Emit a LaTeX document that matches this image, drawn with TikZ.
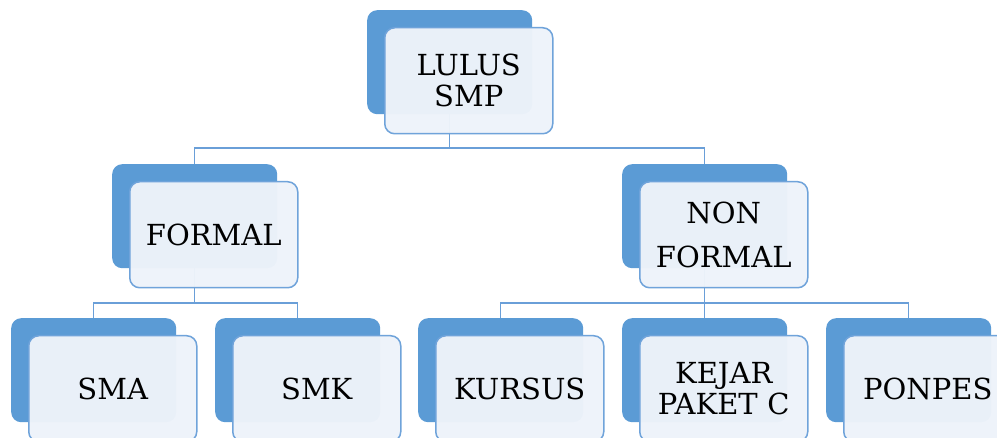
\documentclass[tikz,border=0pt]{standalone}
\usepackage{fontspec}
\setmainfont{DejaVu Serif}
\usetikzlibrary{backgrounds}
\definecolor{backblue}{HTML}{5B9BD5}
\definecolor{frontfill}{HTML}{EEF3FA}
\definecolor{frontline}{HTML}{6FA3DA}
\definecolor{linkcol}{HTML}{6A9FD8}
\tikzset{
  backbox/.style={fill=backblue, rounded corners=10pt, minimum width=165pt, minimum height=104pt, anchor=north west, inner sep=0pt},
  frontbox/.style={fill=frontfill, fill opacity=0.97, text opacity=1, draw=frontline, draw opacity=1, line width=1.5pt, rounded corners=10pt, minimum width=168pt, minimum height=106pt, text width=168pt, anchor=north west, align=center, inner sep=0pt, font=\fontsize{29}{31}\selectfont},
  link/.style={draw=linkcol, line width=1.5pt}
}
\begin{document}
\begin{tikzpicture}[x=1pt,y=-1pt]
\useasboundingbox (0,0) rectangle (997,438);
\clip (0,0) rectangle (997,438);
% level 0
\node[backbox] (top-b) at (367,10) {};
\node[frontbox] (top) at (384,27) {LULUS\\SMP};
% level 1
\node[backbox] (formal-b) at (112,164) {};
\node[frontbox] (formal) at (129,181) {FORMAL};
\node[backbox] (nonformal-b) at (622,164) {};
\node[frontbox] (nonformal) at (639,181) {NON\\[13pt]FORMAL};
% level 2
\node[backbox] (sma-b) at (11,318) {};
\node[frontbox] (sma) at (28,335) {SMA};
\node[backbox] (smk-b) at (215,318) {};
\node[frontbox] (smk) at (232,335) {SMK};
\node[backbox] (kursus-b) at (418,318) {};
\node[frontbox] (kursus) at (435,335) {KURSUS};
\node[backbox] (kejar-b) at (622,318) {};
\node[frontbox] (kejar) at (639,335) {KEJAR\\PAKET C};
\node[backbox] (ponpes-b) at (826,318) {};
\node[frontbox] (ponpes) at (843,335) {PONPES};
% connectors
\coordinate (bus1) at (0,148);
\coordinate (bus2) at (0,303);
\begin{scope}[on background layer]
  \fill[white] (0,0) rectangle (997,438);
  \draw[link] (top-b.south) -- (top-b.south |- bus1) -| (formal-b.north);
  \draw[link] (top-b.south |- bus1) -| (nonformal-b.north);
  \draw[link] (formal-b.south) -- (formal-b.south |- bus2) -| (sma-b.north);
  \draw[link] (formal-b.south |- bus2) -| (smk-b.north);
  \draw[link] (nonformal-b.south) -- (nonformal-b.south |- bus2) -| (kursus-b.north);
  \draw[link] (nonformal-b.south |- bus2) -| (ponpes-b.north);
  \draw[link] (nonformal-b.south |- bus2) -- (kejar-b.north);
\end{scope}
\end{tikzpicture}
\end{document}
